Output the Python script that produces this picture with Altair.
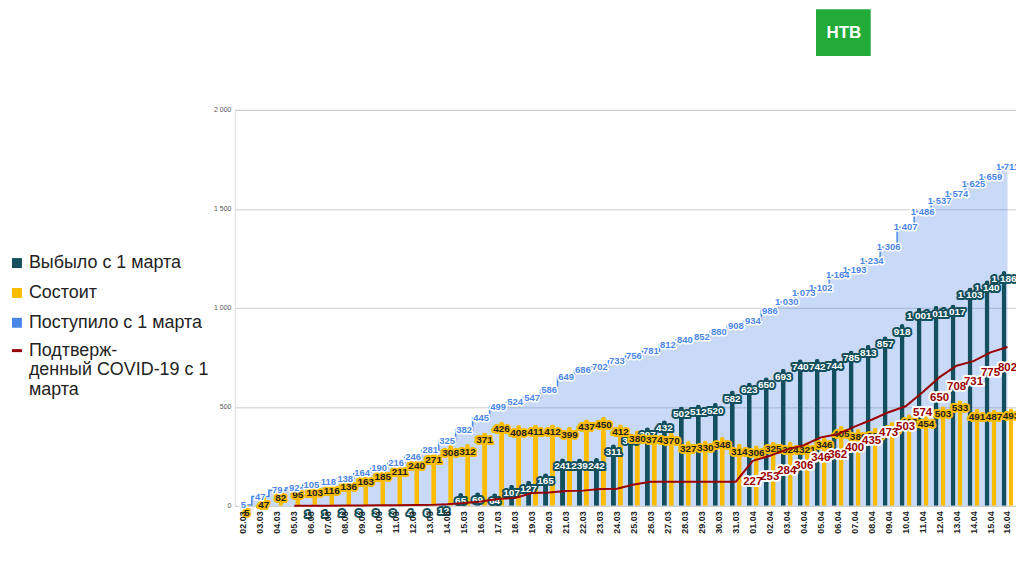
import altair as alt
import pandas as pd

dates = ["02.03", "03.03", "04.03", "05.03", "06.03", "07.03", "08.03", "09.03", "10.03",
         "11.03", "12.03", "13.03", "14.03", "15.03", "16.03", "17.03", "18.03", "19.03",
         "20.03", "21.03", "22.03", "23.03", "24.03", "25.03", "26.03", "27.03", "28.03",
         "29.03", "30.03", "31.03", "01.04", "02.04", "03.04", "04.04", "05.04", "06.04",
         "07.04", "08.04", "09.04", "10.04", "11.04", "12.04", "13.04", "14.04", "15.04",
         "16.04"]
vybylo = [0, 0, 0, 0, 1, 1, 2, 3, 3, 3, 4, 6, 12, 65, 69, 64, 107, 127, 165, 241, 239, 242,
          311, 366, 397, 432, 502, 512, 520, 582, 623, 650, 693, 740, 742, 744, 785, 813, 857,
          918, 1001, 1011, 1017, 1103, 1140, 1186]
sostoit = [5, 47, 82, 95, 103, 116, 136, 163, 185, 211, 240, 271, 308, 312, 371, 426, 408,
           411, 412, 399, 437, 450, 412, 380, 374, 370, 327, 330, 348, 314, 306, 325, 324, 321,
           346, 405, 389, 395, 423, 463, 454, 503, 533, 491, 487, 493]
postupilo = [5, 47, 79, 92, 105, 118, 138, 164, 190, 216, 246, 281, 325, 382, 445, 499, 524,
             547, 586, 649, 686, 702, 733, 756, 781, 812, 840, 852, 880, 908, 934, 986, 1030,
             1073, 1102, 1164, 1193, 1234, 1306, 1407, 1486, 1537, 1574, 1625, 1659, 1711]
covid = [None, None, None, 1, 1, 1, 2, 2, 3, 3, 4, 5, 8, 14, 22, 35, 40, 65, 67, 75, 77, 85,
         86, 108, 122, 122, 122, 122, 122, 122, 227, 253, 284, 306, 346, 362, 400, 435, 473,
         503, 574, 650, 708, 731, 775, 802]
covid_labels_from = "01.04"
y_ticks = [0, 500, 1000, 1500, 2000]

L_V = "Выбыло с 1 марта"
L_S = "Состоит"
L_P = "Поступило с 1 марта"
L_C = "Подтвержденный COVID-19 с 1 марта"
L_C_first = "Подтверж-"
L_C_rest = "денный COVID-19 с 1\nмарта"

C_V, C_S, C_P, C_C = "#134f5c", "#fbbc04", "#4a86e8", "#990000"

df = pd.DataFrame({"date": dates, "idx": list(range(len(dates))), "vyb": vybylo,
                   "sost": sostoit, "post": postupilo, "covid": covid})
start_idx = dates.index(covid_labels_from)
big_dark_idx = [i for i, v in enumerate(vybylo) if v >= 1000]

FONT = "Arial"
PAD_L, PAD_T = 228, 101
LEG_X = -228
LEG_FS = 18

x_enc = alt.X("date:N", sort=dates,
              scale=alt.Scale(paddingInner=0, paddingOuter=0),
              axis=alt.Axis(title=None, labelAngle=-90, labelFont=FONT, labelFontSize=9,
                            labelFontWeight="bold", labelColor="#222", ticks=False,
                            domain=False, grid=False, labelPadding=5, zindex=1))
y_scale = alt.Scale(domain=[0, 2000], nice=False)
y_axis = alt.Axis(title=None, values=y_ticks,
                  labelExpr="replace(format(datum.value, ','), ',', ' ')",
                  labelFont=FONT, labelFontSize=7, labelColor="#555", ticks=False,
                  domain=False, gridColor="#cccccc", gridWidth=1, labelPadding=4)

color_scale = alt.Scale(domain=[L_V, L_S, L_P], range=[C_V, C_S, C_P])
color_legend = alt.Legend(orient="none", legendX=LEG_X, legendY=145, title=None,
                          symbolType="square", symbolSize=100, symbolOpacity=1,
                          symbolStrokeWidth=0, labelFont=FONT, labelFontSize=LEG_FS,
                          labelColor="#222", labelLimit=0, rowPadding=12, padding=0,
                          labelOffset=3)
stroke_legend = alt.Legend(orient="none", legendX=LEG_X, legendY=233, title=None,
                           symbolType="M-1,0H1", symbolSize=100, symbolStrokeWidth=3,
                           labelFont=FONT, labelFontSize=LEG_FS, labelColor="#222",
                           labelLimit=0, padding=0, labelOffset=3,
                           labelExpr=f"'{L_C_first}'")


def fmt(field):
    return f"replace(format(datum.{field}, ','), ',', ' ')"


area = alt.Chart(df).transform_calculate(series=f"'{L_P}'").mark_area(
    interpolate="step", fillOpacity=0.3).encode(
    x=x_enc, y=alt.Y("post:Q", scale=y_scale, axis=y_axis),
    color=alt.Color("series:N", scale=color_scale, legend=color_legend))

step_line = alt.Chart(df).mark_line(interpolate="step", color=C_P, strokeWidth=1.5).encode(
    x=x_enc, y=alt.Y("post:Q", scale=y_scale))

dark_bars = alt.Chart(df).transform_calculate(series=f"'{L_V}'").mark_bar(
    width=5, xOffset=-3.5, cornerRadiusTopLeft=2.5, cornerRadiusTopRight=2.5).encode(
    x=x_enc, y=alt.Y("vyb:Q", scale=y_scale),
    color=alt.Color("series:N", scale=color_scale, legend=color_legend))

yellow_bars = alt.Chart(df).transform_calculate(series=f"'{L_S}'").mark_bar(
    width=5, xOffset=3.5, cornerRadiusTopLeft=2.5, cornerRadiusTopRight=2.5).encode(
    x=x_enc, y=alt.Y("sost:Q", scale=y_scale),
    color=alt.Color("series:N", scale=color_scale, legend=color_legend))


def label_layers(field, dx, dy, halo, fg, size, weight, hw, filt):
    base = alt.Chart(df).transform_filter(filt).transform_calculate(lab=fmt(field))
    enc = dict(x=x_enc, y=alt.Y(f"{field}:Q", scale=y_scale), text="lab:N",
               order=alt.Order("idx:Q", sort="descending"))
    common = dict(dx=dx, dy=dy, baseline="middle", align="center", font=FONT,
                  fontSize=size, fontWeight=weight)
    h = base.mark_text(stroke=halo, strokeWidth=hw, strokeJoin="round", fill=halo,
                       **common).encode(**enc)
    t = base.mark_text(fill=fg, **common).encode(**enc)
    return [h, t]


dark_lab = label_layers("vyb", -3.5, 8, C_V, "white", 10, "bold", 4,
                        "datum.vyb > 0 && datum.vyb < 1000")
# large labels overlap: draw each one separately, later dates underneath earlier ones
for i in sorted(big_dark_idx, reverse=True):
    dark_lab += label_layers("vyb", -3.5, 8, C_V, "white", 10, "bold", 4,
                             f"datum.idx == {i}")
yellow_lab = label_layers("sost", 3.5, 8, C_S, "#222", 10, "bold", 4, "datum.sost > 0")
red_lab = label_layers("covid", 0, 21, "white", C_C, 11.5, "bold", 4,
                       f"datum.idx >= {start_idx}")
blue_lab = label_layers("post", 0, 0, "white", C_P, 9.5, "bold", 3, "datum.post > 0")

red_line = alt.Chart(df).transform_calculate(s2=f"'{L_C}'").mark_line(strokeWidth=2).encode(
    x=x_enc, y=alt.Y("covid:Q", scale=y_scale),
    stroke=alt.Stroke("s2:N", scale=alt.Scale(domain=[L_C], range=[C_C]),
                      legend=stroke_legend))

# continuation lines of the last legend label
leg_rest_df = pd.DataFrame({"t": [L_C_rest]})
leg_rest = alt.Chart(leg_rest_df).mark_text(
    font=FONT, fontSize=LEG_FS, color="#222", align="left", baseline="top",
    lineBreak="\n", lineHeight=21).encode(
    x=alt.value(LEG_X + 21), y=alt.value(252), text="t:N")

logo_df = pd.DataFrame({"t": ["НТВ"]})
logo_box = alt.Chart(logo_df).mark_rect(color="#22ab38").encode(
    x=alt.value(584), x2=alt.value(639), y=alt.value(-101), y2=alt.value(-54))
logo_txt = alt.Chart(logo_df).mark_text(color="white", font=FONT, fontSize=17,
                                        fontWeight="bold", align="center",
                                        baseline="middle").encode(
    x=alt.value(612), y=alt.value(-77), text="t:N")

chart = alt.layer(
    area, step_line, dark_bars, yellow_bars, *dark_lab, *yellow_lab, red_line, *red_lab,
    *blue_lab, leg_rest, logo_box, logo_txt
).properties(
    width=785, height=398,
    autosize=alt.AutoSizeParams(type="none"),
    padding={"left": PAD_L, "top": PAD_T, "right": 0, "bottom": 40},
    background="white").configure_view(stroke=None).configure(font=FONT)

chart.save("out.html", embed_options={"renderer": "svg", "actions": False})
